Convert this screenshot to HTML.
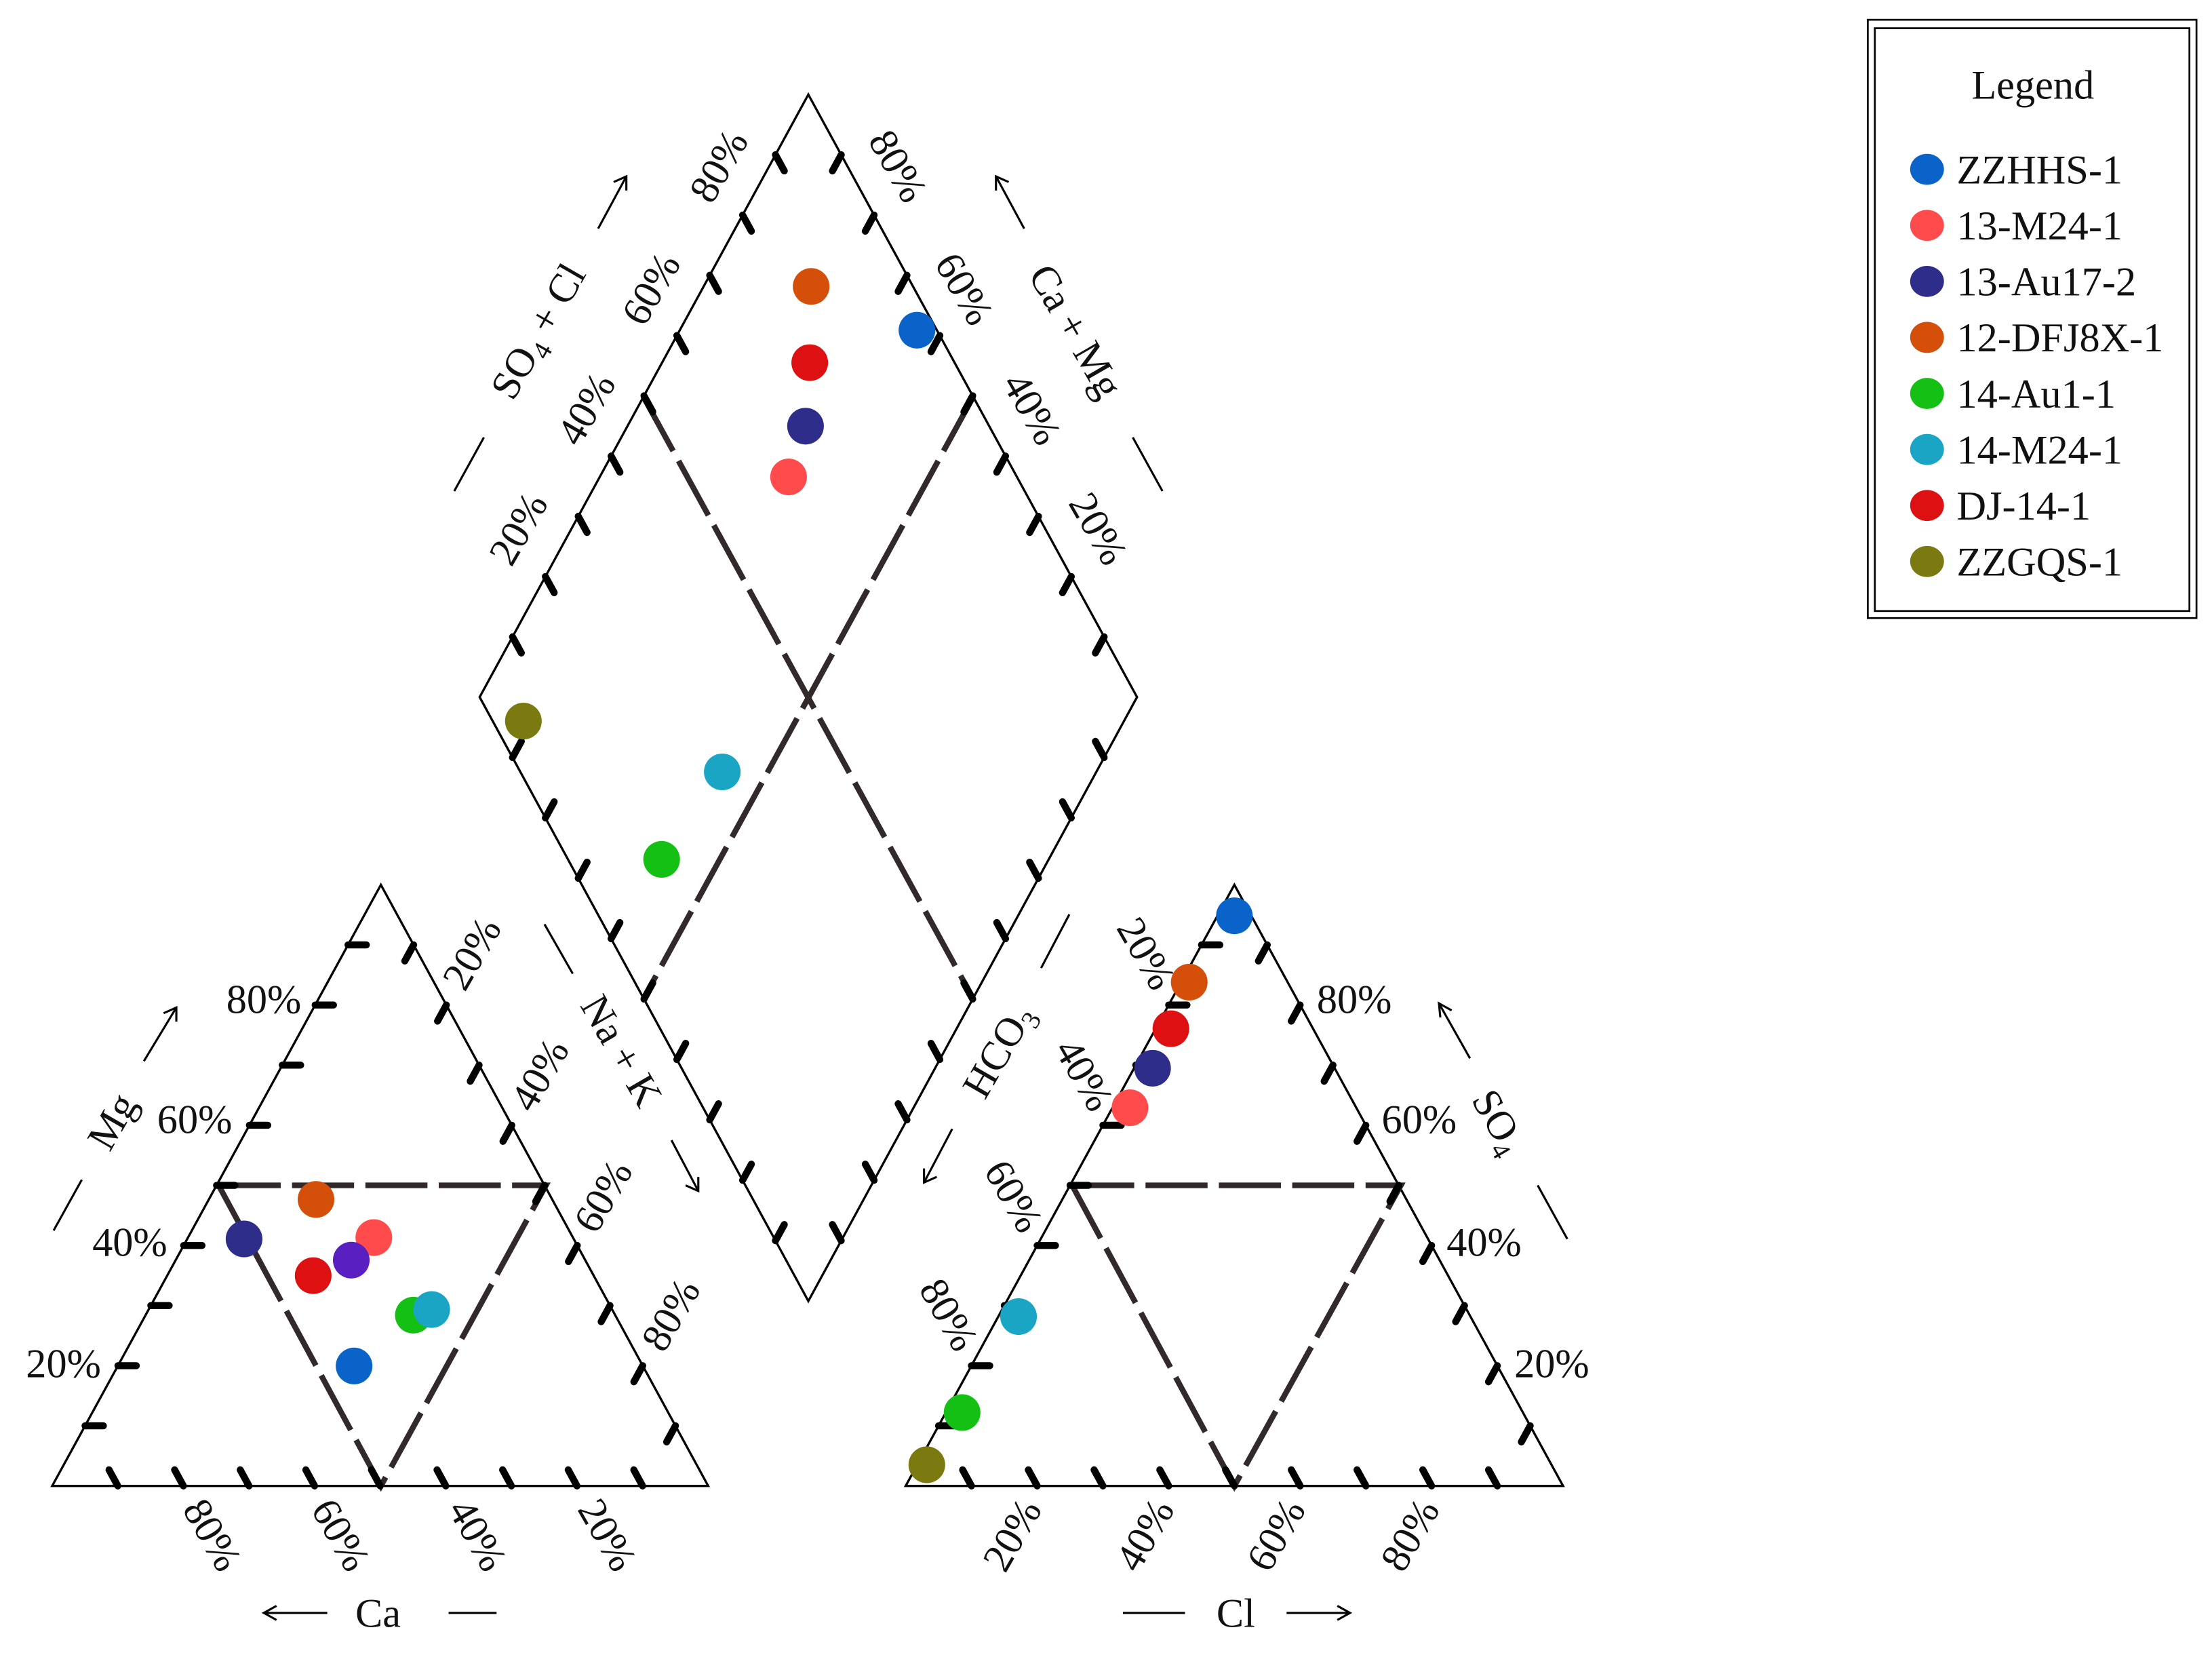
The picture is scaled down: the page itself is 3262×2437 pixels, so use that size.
<!DOCTYPE html>
<html><head><meta charset="utf-8"><style>
html,body{margin:0;padding:0;background:#fff}
svg{display:block}
text{font-family:"Liberation Serif",serif;fill:#111}
</style></head><body>
<svg id="s" width="3262" height="2437" viewBox="0 0 1568 1171.4" preserveAspectRatio="none" xmlns="http://www.w3.org/2000/svg">
<g fill="none" stroke="#000" stroke-width="1.6">
<polygon points="37,1053 502,1053 270,627"/>
<polygon points="642,1053 1108,1053 875,627"/>
<polygon points="573,67 806,494 573,922 340,494"/>
</g>
<g fill="none" stroke="#322a2a" stroke-width="4" stroke-dasharray="44 8">
<polyline points="155,840 387,840 270,1053 155,840"/>
<polyline points="760,840 993,840 875,1053 760,840"/>
<line x1="456" y1="281" x2="690" y2="708"/>
<line x1="690" y1="281" x2="456" y2="708"/>
</g>
<g id="ticks" stroke="#000" stroke-width="5" stroke-linecap="round"></g>
<g font-size="29">
<text x="187" y="718" text-anchor="middle">80%</text>
<text x="138" y="803" text-anchor="middle">60%</text>
<text x="92" y="890" text-anchor="middle">40%</text>
<text x="45" y="976" text-anchor="middle">20%</text>
<text transform="translate(335,676) rotate(-60)" text-anchor="middle" dy="9">20%</text>
<text transform="translate(383,762) rotate(-60)" text-anchor="middle" dy="9">40%</text>
<text transform="translate(428,848) rotate(-60)" text-anchor="middle" dy="9">60%</text>
<text transform="translate(476,932) rotate(-60)" text-anchor="middle" dy="9">80%</text>
<text transform="translate(150,1088) rotate(60)" text-anchor="middle" dy="9">80%</text>
<text transform="translate(241,1088) rotate(60)" text-anchor="middle" dy="9">60%</text>
<text transform="translate(338,1088) rotate(60)" text-anchor="middle" dy="9">40%</text>
<text transform="translate(430,1088) rotate(60)" text-anchor="middle" dy="9">20%</text>
<text transform="translate(80,795) rotate(-60)" text-anchor="middle" dy="9">Mg</text>
<text transform="translate(440,745) rotate(60)" text-anchor="middle" dy="9">Na + K</text>
<text x="268" y="1153" text-anchor="middle">Ca</text>

<text transform="translate(812,676) rotate(60)" text-anchor="middle" dy="9">20%</text>
<text transform="translate(768,762) rotate(60)" text-anchor="middle" dy="9">40%</text>
<text transform="translate(718,848) rotate(60)" text-anchor="middle" dy="9">60%</text>
<text transform="translate(672,932) rotate(60)" text-anchor="middle" dy="9">80%</text>
<text x="960" y="718" text-anchor="middle">80%</text>
<text x="1006" y="803" text-anchor="middle">60%</text>
<text x="1052" y="890" text-anchor="middle">40%</text>
<text x="1100" y="976" text-anchor="middle">20%</text>
<text transform="translate(718,1088) rotate(-60)" text-anchor="middle" dy="9">20%</text>
<text transform="translate(812,1088) rotate(-60)" text-anchor="middle" dy="9">40%</text>
<text transform="translate(905,1088) rotate(-60)" text-anchor="middle" dy="9">60%</text>
<text transform="translate(1000,1088) rotate(-60)" text-anchor="middle" dy="9">80%</text>
<text transform="translate(1062,795) rotate(60)" text-anchor="middle" dy="9">SO<tspan font-size="19" dy="6">4</tspan></text>
<text transform="translate(708,745) rotate(-60)" text-anchor="middle" dy="9">HCO<tspan font-size="19" dy="6">3</tspan></text>
<text x="876" y="1153" text-anchor="middle">Cl</text>

<text transform="translate(510,118) rotate(-60)" text-anchor="middle" dy="9">80%</text>
<text transform="translate(462,205) rotate(-60)" text-anchor="middle" dy="9">60%</text>
<text transform="translate(416,290) rotate(-60)" text-anchor="middle" dy="9">40%</text>
<text transform="translate(368,375) rotate(-60)" text-anchor="middle" dy="9">20%</text>
<text transform="translate(636,118) rotate(60)" text-anchor="middle" dy="9">80%</text>
<text transform="translate(683,205) rotate(60)" text-anchor="middle" dy="9">60%</text>
<text transform="translate(731,290) rotate(60)" text-anchor="middle" dy="9">40%</text>
<text transform="translate(778,375) rotate(60)" text-anchor="middle" dy="9">20%</text>
<text transform="translate(382,235) rotate(-60)" text-anchor="middle" dy="9">SO<tspan font-size="19" dy="6">4</tspan><tspan dy="-6"> + Cl</tspan></text>
<text transform="translate(762,235) rotate(60)" text-anchor="middle" dy="9">Ca + Mg</text>
</g>
<g stroke="#000" stroke-width="1.5" fill="none">
<line x1="187" y1="1143" x2="232" y2="1143"/><polyline points="196,1138 187,1143 196,1148"/>
<line x1="318" y1="1143" x2="352" y2="1143"/>
<line x1="796" y1="1143" x2="840" y2="1143"/>
<line x1="912" y1="1143" x2="957" y2="1143"/><polyline points="948,1138 957,1143 948,1148"/>
<line x1="102" y1="752" x2="125" y2="714"/><polyline points="116,718 125,714 125,724"/>
<line x1="38" y1="872" x2="58" y2="836"/>
<line x1="386" y1="655" x2="406" y2="690"/>
<line x1="476" y1="808" x2="495" y2="844"/><polyline points="486,840 495,844 495,834"/>
<line x1="1020" y1="711" x2="1042" y2="750"/><polyline points="1021,721 1020,711 1029,716"/>
<line x1="1090" y1="840" x2="1111" y2="878"/>
<line x1="675" y1="800" x2="655" y2="838"/><polyline points="655,828 655,838 664,834"/>
<line x1="758" y1="648" x2="738" y2="686"/>
<line x1="424" y1="162" x2="444" y2="125"/><polyline points="435,129 444,125 444,135"/>
<line x1="322" y1="348" x2="343" y2="310"/>
<line x1="706" y1="125" x2="726" y2="162"/><polyline points="706,135 706,125 715,129"/>
<line x1="803" y1="310" x2="824" y2="348"/>
</g>
<g id="pts"></g>
<rect x="1324" y="14" width="233" height="424" fill="none" stroke="#000" stroke-width="1.3"/>
<rect x="1329" y="20" width="223" height="413" fill="none" stroke="#000" stroke-width="1.3"/>
<text x="1441" y="70" font-size="29" text-anchor="middle">Legend</text>
<g font-size="29" id="leg"></g>
</svg>
<script>
var NS="http://www.w3.org/2000/svg";
var tk=document.getElementById("ticks");
function ticks(A,B,C){var dx=C[0]-B[0],dy=C[1]-B[1],l=Math.hypot(dx,dy);dx=dx/l*13;dy=dy/l*13;
for(var i=1;i<10;i++){var x=A[0]+(B[0]-A[0])*i/10,y=A[1]+(B[1]-A[1])*i/10;
var e=document.createElementNS(NS,"line");e.setAttribute("x1",x);e.setAttribute("y1",y);e.setAttribute("x2",x+dx);e.setAttribute("y2",y+dy);tk.appendChild(e);}}
var L=[[37,1053],[502,1053],[270,627]],R=[[642,1053],[1108,1053],[875,627]];
ticks(L[0],L[1],L[2]);ticks(L[1],L[2],L[0]);ticks(L[2],L[0],L[1]);
ticks(R[0],R[1],R[2]);ticks(R[1],R[2],R[0]);ticks(R[2],R[0],R[1]);
var T=[573,67],Ri=[806,494],Bo=[573,922],Le=[340,494];
ticks(T,Ri,Bo);ticks(Ri,Bo,Le);ticks(Bo,Le,T);ticks(Le,T,Ri);
var C={b:"#0a63c9",p:"#ff4b4b",n:"#2e2e8a",o:"#d4500a",g:"#13c013",c:"#1aa5c4",r:"#dd1111",v:"#7a7a10",u:"#5a1fc0"};
var P=[[224,850,"o"],[173,878,"n"],[265,877,"p"],[222,904,"r"],[249,893,"u"],[293,932,"g"],[306,928,"c"],[251,968,"b"],
[875,649,"b"],[843,696,"o"],[830,729,"r"],[817,757,"n"],[801,785,"p"],[722,933,"c"],[682,1001,"g"],[657,1038,"v"],
[575,203,"o"],[650,234,"b"],[574,257,"r"],[571,302,"n"],[559,338,"p"],[371,511,"v"],[512,547,"c"],[469,609,"g"]];
var pg=document.getElementById("pts");
P.forEach(function(q){var e=document.createElementNS(NS,"circle");e.setAttribute("cx",q[0]);e.setAttribute("cy",q[1]);e.setAttribute("r",13);e.setAttribute("fill",C[q[2]]);pg.appendChild(e);});
var lg=document.getElementById("leg");
[["b","ZZHHS-1"],["p","13-M24-1"],["n","13-Au17-2"],["o","12-DFJ8X-1"],["g","14-Au1-1"],["c","14-M24-1"],["r","DJ-14-1"],["v","ZZGQS-1"]].forEach(function(q,i){
var y=120+i*39.7;var e=document.createElementNS(NS,"ellipse");e.setAttribute("cx",1366);e.setAttribute("cy",y);e.setAttribute("rx",12);e.setAttribute("ry",11);e.setAttribute("fill",C[q[0]]);lg.appendChild(e);
var t=document.createElementNS(NS,"text");t.setAttribute("x",1387);t.setAttribute("y",y+10);t.textContent=q[1];lg.appendChild(t);});
</script>
</body></html>
